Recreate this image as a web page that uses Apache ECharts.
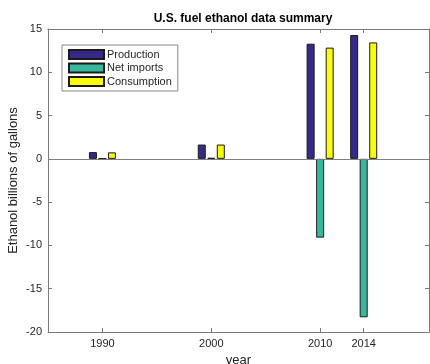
<!DOCTYPE html>
<html><head><meta charset="utf-8">
<script src="https://cdn.jsdelivr.net/npm/echarts@6/dist/echarts.min.js"></script>
<style>html,body{margin:0;padding:0;background:#fff}#c{width:430px;height:364px}</style>
</head><body><div id="c"></div>
<script>
const years = [1990, 2000, 2010, 2014];
const production = [0.78, 1.65, 13.3, 14.3];
const netImports = [0.03, 0.12, -9.1, -18.3];
const consumption = [0.75, 1.65, 12.85, 13.45];
const yTicks = [-20, -15, -10, -5, 0, 5, 10, 15];
const seriesNames = ['Production', 'Net imports', 'Consumption'];
const colors = ['#352a87', '#38b79c', '#f9fb0e'];

const FONT = '"Liberation Sans", Arial, sans-serif';
const chart = echarts.init(document.getElementById('c'));
const axisColor = '#7a7a7a';
const textColor = '#262626';

function mk(name, vals, i) {
  const s = {
    name: name, type: 'bar', barWidth: 8, barGap: '19%',
    xAxisIndex: 0, yAxisIndex: 0,
    itemStyle: { color: colors[i], borderColor: '#1a1a1a', borderWidth: 1 },
    data: years.map((y, k) => [y, vals[k]]),
    animation: false
  };
  if (i === 0) {
    s.markLine = {
      silent: true, symbol: 'none', label: { show: false },
      lineStyle: { color: '#808080', width: 1, type: 'solid' },
      data: [{ yAxis: 0 }], animation: false
    };
  }
  return s;
}

chart.setOption({
  animation: false,
  title: {
    text: 'U.S. fuel ethanol data summary', left: 238, top: 8, textAlign: 'center',
    textStyle: { fontFamily: FONT, fontSize: 12, fontWeight: 'bold', color: '#000' }
  },
  legend: {
    left: 62, top: 45, orient: 'vertical',
    data: seriesNames,
    itemWidth: 35, itemHeight: 9, itemGap: 2.5,
    padding: [4, 6, 4, 6],
    borderColor: '#8a8a8a', borderWidth: 1, backgroundColor: '#fff',
    textStyle: { fontFamily: FONT, fontSize: 11, color: textColor, padding: [0, 0, 0, -2] },
    icon: 'rect'
  },
  grid: { left: 48, right: 1, top: 29, bottom: 32, containLabel: false, outerBoundsMode: 'none' },
  xAxis: [{
    type: 'value', min: 1985, max: 2020, position: 'bottom',
    name: 'year', nameLocation: 'middle', nameGap: 22, nameMoveOverlap: false,
    nameTextStyle: { fontFamily: FONT, fontSize: 13, color: textColor },
    axisLine: { show: true, onZero: false, lineStyle: { color: axisColor } },
    axisTick: { show: true, inside: true, length: 4, customValues: years, lineStyle: { color: axisColor } },
    axisLabel: { customValues: years, formatter: v => String(v), fontFamily: FONT, fontSize: 11, color: textColor, margin: 6 },
    splitLine: { show: false }
  }, {
    type: 'value', min: 1985, max: 2020, position: 'top',
    axisLine: { show: true, onZero: false, lineStyle: { color: axisColor } },
    axisTick: { show: true, inside: true, length: 4, customValues: years, lineStyle: { color: axisColor } },
    axisLabel: { show: false },
    splitLine: { show: false }
  }],
  yAxis: [{
    type: 'value', min: -20, max: 15, interval: 5, position: 'left',
    name: 'Ethanol billions of gallons', nameLocation: 'middle', nameGap: 28, nameMoveOverlap: false,
    nameTextStyle: { fontFamily: FONT, fontSize: 13, color: textColor },
    axisLine: { show: true, onZero: false, lineStyle: { color: axisColor } },
    axisTick: { show: true, inside: true, length: 4, lineStyle: { color: axisColor } },
    axisLabel: { fontFamily: FONT, fontSize: 11, color: textColor, margin: 6 },
    splitLine: { show: false }
  }, {
    type: 'value', min: -20, max: 15, interval: 5, position: 'right',
    axisLine: { show: true, onZero: false, lineStyle: { color: axisColor } },
    axisTick: { show: true, inside: true, length: 4, lineStyle: { color: axisColor } },
    axisLabel: { show: false },
    splitLine: { show: false }
  }],
  series: [mk(seriesNames[0], production, 0), mk(seriesNames[1], netImports, 1), mk(seriesNames[2], consumption, 2)]
});
</script></body></html>
